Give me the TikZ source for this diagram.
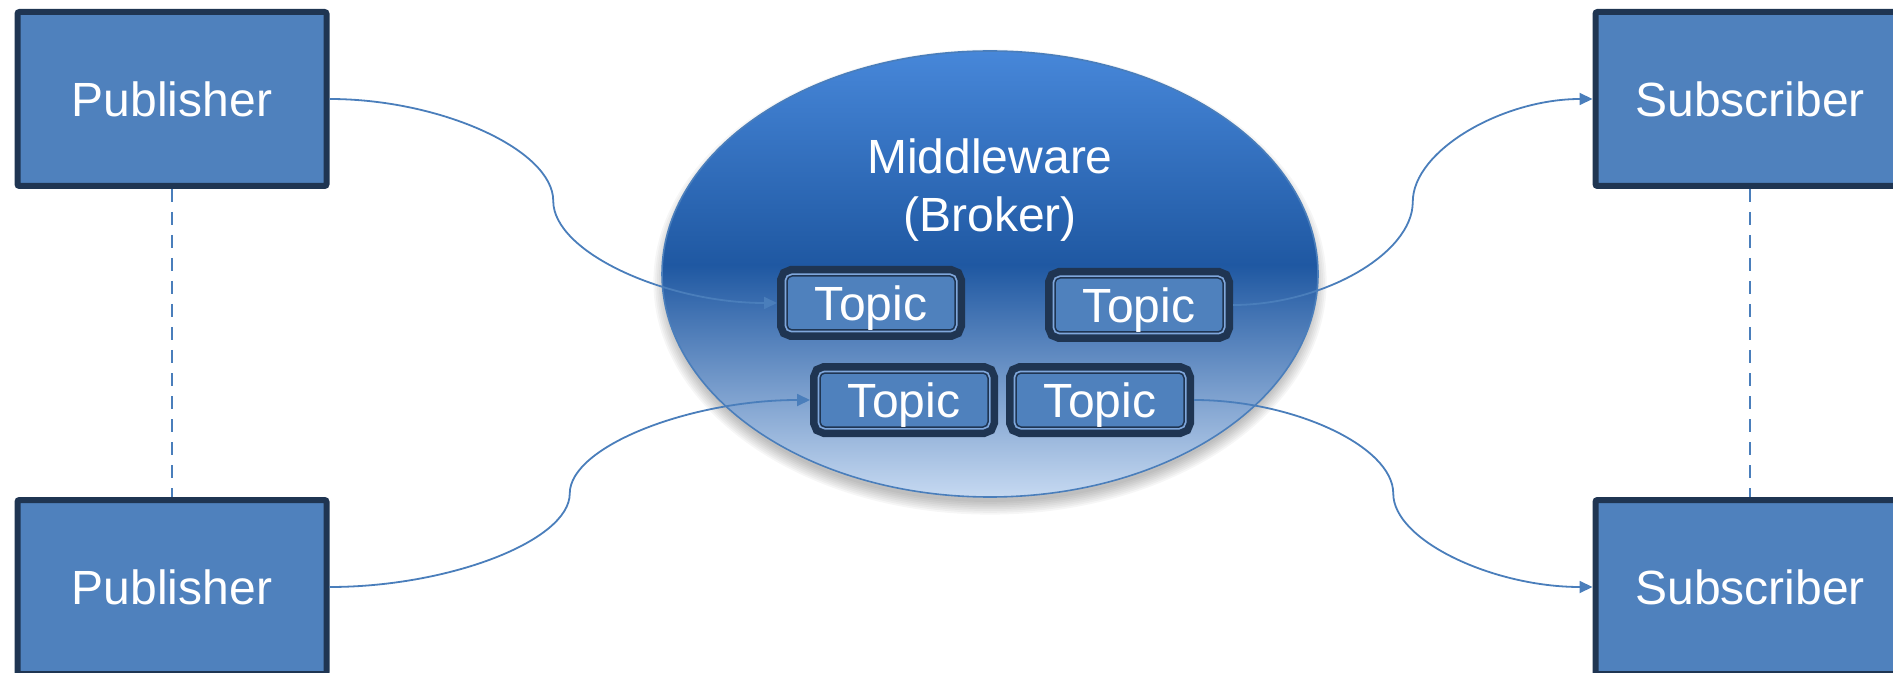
\documentclass[tikz,border=0pt]{standalone}
\usepackage{fontspec}
\setmainfont{Liberation Sans}
\usetikzlibrary{arrows.meta,calc,shapes.geometric}
\definecolor{boxfill}{HTML}{4F81BD}
\definecolor{navy}{HTML}{1F3552}
\definecolor{connblue}{HTML}{4A7EBB}
\definecolor{topline}{HTML}{7FA7DC}
\definecolor{elltop}{HTML}{4787D9}
\definecolor{ellmid}{HTML}{1F58A2}
\definecolor{ellbot}{HTML}{C6D9F1}
\definecolor{ellrim}{HTML}{4A7EBB}
\pgfdeclareverticalshading{brokershade}{100bp}{color(0bp)=(ellbot); color(25bp)=(ellbot); color(51bp)=(ellmid); color(75bp)=(elltop); color(100bp)=(elltop)}
\tikzset{
  bigbox/.style={rectangle, rounded corners=1pt, fill=boxfill, draw=navy, line width=3pt,
    minimum width=154.5pt, minimum height=87pt, inner sep=0pt, text=white,
    font=\fontsize{24pt}{28pt}\selectfont},
  topicbox/.style={rectangle, rounded corners=2.5pt, fill=boxfill, draw=navy, line width=0.75pt,
    minimum width=84pt, minimum height=27pt, inner sep=0pt, outer sep=5pt, text=white,
    text depth=0pt, font=\fontsize{24pt}{28pt}\selectfont,
    preaction={draw=navy, line width=10pt},
    preaction={draw=topline, line width=2.5pt}},
  link/.style={draw=connblue, line width=0.9pt, -{Triangle[length=6.5pt,width=6pt]}},
  dashlink/.style={draw=connblue, line width=1.1pt, dash pattern=on 6.5pt off 5pt},
}
\begin{document}
\begin{tikzpicture}[x=0.5pt,y=-0.5pt]
\useasboundingbox (0,0) rectangle (1893,673);

% soft shadow under the broker
\foreach \k in {0,...,7}
  \fill[black, opacity=0.035] (990,282) ellipse [x radius={162pt+\k*0.9pt}, y radius={110pt+\k*0.9pt}];

% broker ellipse
\node[ellipse, minimum width=328pt, minimum height=223pt, inner sep=0pt,
      shading=brokershade, draw=ellrim, line width=0.8pt]
      (broker) at (990,274) {};
\node[text=white, align=center, font=\fontsize{24pt}{29pt}\selectfont]
      (brokerlabel) at (990,190) {Middleware\\(Broker)};

% topics
\node[topicbox] (t1) at (871,303) {Topic};
\node[topicbox] (t2) at (1139,305) {Topic};
\node[topicbox] (t3) at (904,400) {Topic};
\node[topicbox] (t4) at (1100,400) {Topic};

% publishers / subscribers
\node[bigbox] (p1) at (172,99) {Publisher};
\node[bigbox] (p2) at (172,587) {Publisher};
\node[bigbox] (s1) at (1750,99) {Subscriber};
\node[bigbox] (s2) at (1750,587) {Subscriber};

% dashed links
\draw[dashlink] (p1.south) -- (p2.north);
\draw[dashlink] (s1.south) -- (s2.north);

% midpoints
\coordinate (m1) at ($(p1.east)!0.5!(t1.west)$);
\coordinate (m2) at ($(p2.east)!0.5!(t3.west)$);
\coordinate (m3) at ($(t2.east)!0.5!(s1.west)$);
\coordinate (m4) at ($(t4.east)!0.5!(s2.west)$);

% curved connectors
\draw[link] (p1.east) .. controls +(111.5,0) and +(0,-51) .. (m1)
                      .. controls +(0,51) and +(-111.5,0) .. (t1.west);
\draw[link] (p2.east) .. controls +(120,0) and +(0,47) .. (m2)
                      .. controls +(0,-47) and +(-120,0) .. (t3.west);
\draw[link] (t2.east) .. controls +(90,0) and +(0,51.5) .. (m3)
                      .. controls +(0,-51.5) and +(-90,0) .. (s1.west);
\draw[link] (t4.east) .. controls +(99.5,0) and +(0,-47) .. (m4)
                      .. controls +(0,47) and +(-99.5,0) .. (s2.west);
\end{tikzpicture}
\end{document}
